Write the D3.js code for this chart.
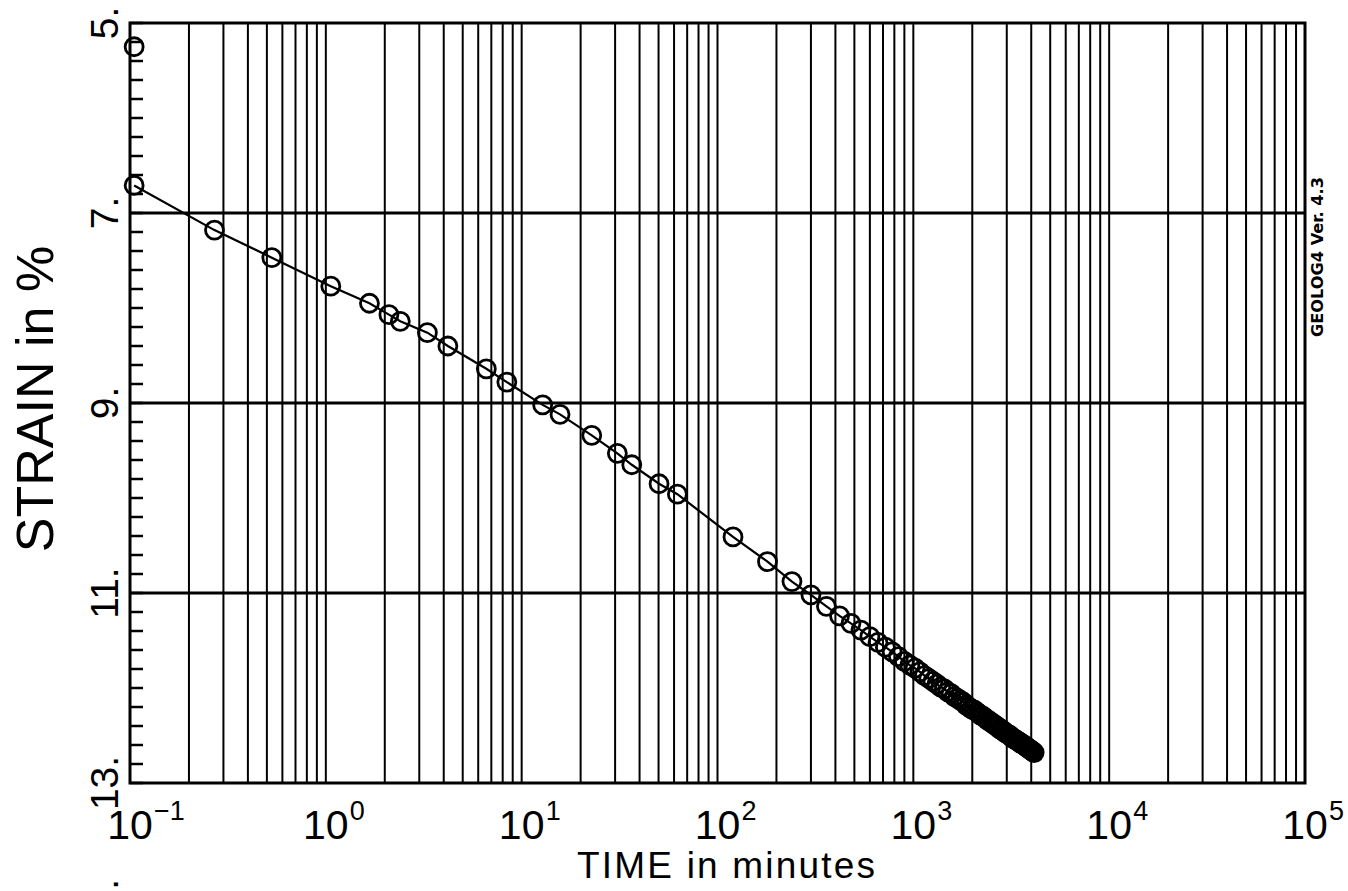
<!DOCTYPE html>
<html>
<head>
<meta charset="utf-8">
<script src="https://cdn.jsdelivr.net/npm/d3@7"></script>
<style>
    body { margin: 0; background: #fff; }
    svg { display: block; }
    text { font-family: "Liberation Sans", Arial, sans-serif; fill: #000; }
</style>
</head>
<body>
<svg id="chart" width="1348" height="891"></svg>
<script>
// time in minutes
const times = [
    0.105, 0.105, 0.27, 0.53, 1.06, 1.67, 2.1, 2.4, 3.3, 4.2, 6.6, 8.4, 12.8, 15.7, 22.8, 30.8, 36.5, 50.3, 62.4,
    120, 180, 240, 300, 360, 420, 480, 540, 600, 660, 720, 780, 840, 900, 960, 1020, 1080, 1140, 1200,
    1260, 1320, 1380, 1440, 1500, 1560, 1620, 1680, 1740, 1800, 1860, 1920, 1980, 2040, 2100, 2160,
    2220, 2280, 2340, 2400, 2460, 2520, 2580, 2640, 2700, 2760, 2820, 2880, 2940, 3000, 3060, 3120,
    3180, 3240, 3300, 3360, 3420, 3480, 3540, 3600, 3660, 3720, 3780, 3840, 3900, 3960, 4020, 4080, 4140
]

// strain in %
const strains = [
    5.25, 6.71, 7.18, 7.47, 7.77, 7.95, 8.07, 8.14, 8.26, 8.40, 8.64, 8.78, 9.02, 9.12, 9.34, 9.53, 9.65, 9.85, 9.96,
    10.41, 10.67, 10.88, 11.02, 11.14, 11.24, 11.32, 11.39, 11.46, 11.52, 11.57, 11.62, 11.67, 11.72, 11.76, 11.79, 11.83, 11.87, 11.90,
    11.93, 11.96, 11.99, 12.01, 12.04, 12.06, 12.09, 12.11, 12.13, 12.15, 12.18, 12.20, 12.22, 12.23, 12.25, 12.27,
    12.29, 12.30, 12.32, 12.34, 12.35, 12.37, 12.38, 12.40, 12.41, 12.43, 12.44, 12.45, 12.47, 12.48, 12.49, 12.50,
    12.52, 12.53, 12.54, 12.55, 12.56, 12.57, 12.58, 12.59, 12.60, 12.61, 12.62, 12.63, 12.64, 12.65, 12.66, 12.67, 12.68
]

const strain_labels = [5, 7, 9, 11, 13]
const strain_grid = [7, 9, 11]
const time_exponents = [-1, 0, 1, 2, 3, 4, 5]


class Creep_Chart {
    constructor(svg) {
        this.svg = svg
        this.data = times.map((t, i) => ({ time: t, strain: strains[i] }))
        this.add_scale()
        this.ChartArea = svg.append('g')
    }

    add_scale() {
        this.x = d3.scaleLog().domain([0.1, 1e5]).range([130, 1305])
        this.y = d3.scaleLinear().domain([5, 13]).range([23, 783])
    }

    draw_chart() {
        this.add_grid()
        this.add_axes()
        this.add_points()
        this.add_labels()
    }

    add_grid() {
        const x = this.x, y = this.y

        // vertical log grid, 1..9 in every decade
        this.ChartArea.selectAll('.vgrid').data(x.ticks()).join('line').attr('class', 'vgrid')
            .attr('x1', d => x(d)).attr('x2', d => x(d))
            .attr('y1', y(5)).attr('y2', y(13))
            .attr('stroke', '#000')
            .attr('stroke-width', 2)

        // horizontal grid
        this.ChartArea.selectAll('.hgrid').data(strain_grid).join('line').attr('class', 'hgrid')
            .attr('x1', x(0.1)).attr('x2', x(1e5))
            .attr('y1', d => y(d)).attr('y2', d => y(d))
            .attr('stroke', '#000')
            .attr('stroke-width', 3)
    }

    add_axes() {
        const x = this.x, y = this.y

        // frame
        this.ChartArea.append('rect')
            .attr('x', x(0.1)).attr('y', y(5))
            .attr('width', x(1e5) - x(0.1)).attr('height', y(13) - y(5))
            .attr('fill', 'none')
            .attr('stroke', '#000')
            .attr('stroke-width', 3)

        // minor ticks on left, pointing in
        this.ChartArea.selectAll('.ytick').data(y.ticks(40)).join('line').attr('class', 'ytick')
            .attr('x1', x(0.1)).attr('x2', x(0.1) + 13)
            .attr('y1', d => y(d)).attr('y2', d => y(d))
            .attr('stroke', '#000')
            .attr('stroke-width', 2.5)

        // y tick labels, rotated
        this.ChartArea.selectAll('.ylabel').data(strain_labels).join('text').attr('class', 'ylabel')
            .attr('transform', d => `translate(118,${y(d)}) rotate(-90)`)
            .attr('text-anchor', 'middle')
            .style('font-size', '39px')
            .text(d => d + '.')

        // x tick labels 10^n
        let xl = this.ChartArea.selectAll('.xlabel').data(time_exponents).join('g').attr('class', 'xlabel')
            .attr('transform', d => `translate(${x(Math.pow(10, d))},839)`)
        xl.append('text')
            .attr('text-anchor', 'middle')
            .style('font-size', '41px')
            .text('10')
        xl.append('text')
            .attr('x', 24)
            .attr('y', -19)
            .style('font-size', '27px')
            .text(d => String(d).replace('-', '\u2212'))
    }

    add_points() {
        const x = this.x, y = this.y

        const line = d3.line().x(d => x(d.time)).y(d => y(d.strain))
        this.ChartArea.append('path')
            .datum(this.data.slice(1))
            .attr('d', line)
            .attr('fill', 'none')
            .attr('stroke', '#000')
            .attr('stroke-width', 2.2)

        this.ChartArea.selectAll('.pt').data(this.data).join('circle').attr('class', 'pt')
            .attr('cx', d => x(d.time))
            .attr('cy', d => y(d.strain))
            .attr('r', 9)
            .attr('fill', 'none')
            .attr('stroke', '#000')
            .attr('stroke-width', 2.8)
    }

    add_labels() {
        this.svg.append('text')
            .attr('transform', 'translate(53,399) rotate(-90)')
            .attr('text-anchor', 'middle')
            .style('font-size', '52px')
            .text('STRAIN in %')

        this.svg.append('text')
            .attr('x', 577)
            .attr('y', 878)
            .attr('textLength', 298)
            .attr('lengthAdjust', 'spacing')
            .style('font-size', '37px')
            .text('TIME in minutes')

        this.svg.append('text')
            .attr('transform', 'translate(1323,337) rotate(-90)')
            .attr('textLength', 160)
            .attr('lengthAdjust', 'spacingAndGlyphs')
            .style('font-family', '"Liberation Sans Narrow", "DejaVu Sans Condensed", sans-serif')
            .style('font-weight', 'bold')
            .style('font-size', '15px')
            .text('GEOLOG4  Ver.  4.3')

        // figure number cut off at the page bottom
        this.svg.append('text')
            .attr('transform', 'translate(118,879) rotate(-90)')
            .attr('text-anchor', 'end')
            .style('font-size', '39px')
            .text('2.')
    }
}

const chart = new Creep_Chart(d3.select('#chart'))
chart.draw_chart()
</script>
</body>
</html>
